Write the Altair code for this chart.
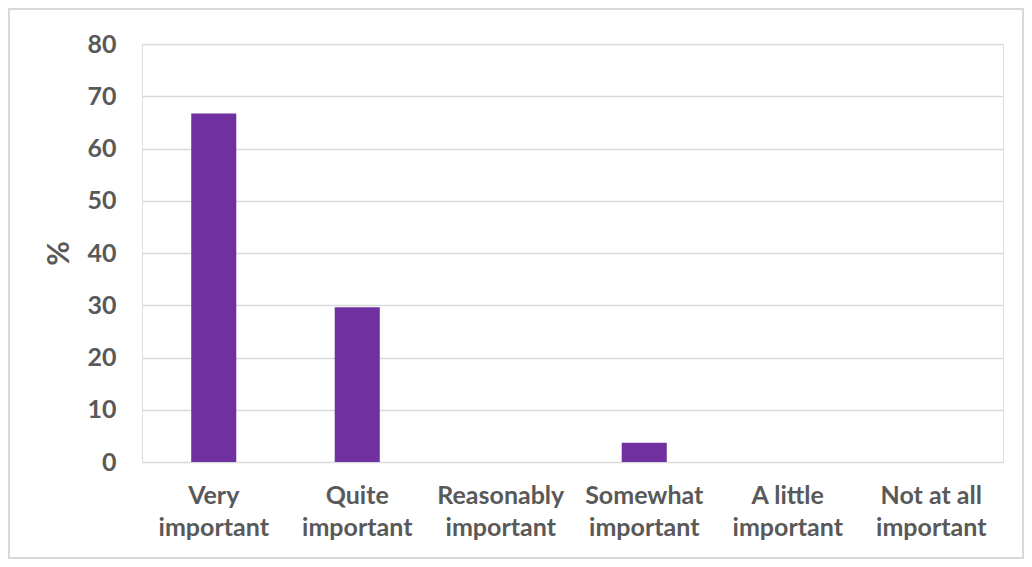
import altair as alt
import pandas as pd

categories = ["Very important", "Quite important", "Reasonably important",
              "Somewhat important", "A little important", "Not at all important"]
values = [66.7, 29.6, 0, 3.7, 0, 0]

df = pd.DataFrame({"category": categories, "pct": values})

FONT = "Lato"
GREY = "#595959"

bars = alt.Chart(df).mark_bar(color="#7030A0").encode(
    x=alt.X("category:N", sort=categories,
            scale=alt.Scale(paddingInner=0.686, paddingOuter=0.343),
            axis=alt.Axis(title=None, labelAngle=0, domain=False, ticks=False,
                          labelPadding=21, labelFont=FONT, labelFontSize=25,
                          labelFontWeight="bold", labelColor=GREY, labelLineHeight=32,
                          labelBaseline="top",
                          labelExpr="[slice(datum.label, 0, lastindexof(datum.label, ' ')), slice(datum.label, lastindexof(datum.label, ' ') + 1)]")),
    y=alt.Y("pct:Q", scale=alt.Scale(domain=[0, 80], nice=False),
            axis=alt.Axis(title="%", values=list(range(0, 81, 10)), domain=False, ticks=False,
                          labelPadding=26, labelFont=FONT, labelFontSize=25,
                          labelFontWeight="bold", labelColor=GREY,
                          titleFont=FONT, titleFontSize=30, titleFontWeight="bold",
                          titleColor=GREY, titlePadding=12,
                          gridColor="#d9d9d9", gridWidth=1.5)),
)

frame = alt.Chart(df).mark_rect(fill=None, stroke="#d9d9d9", strokeWidth=1.5, clip=False).encode(
    x=alt.value(-133), x2=alt.value(881), y=alt.value(-35), y2=alt.value(514)
)

chart = alt.layer(frame, bars).properties(
    width=861, height=418,
    autosize=alt.AutoSizeParams(type="none"),
    padding={"left": 134, "top": 36, "right": 21, "bottom": 97},
).configure_view(stroke=None).configure(background="white")

chart.save("out.html", embed_options={"renderer": "svg", "actions": False})
